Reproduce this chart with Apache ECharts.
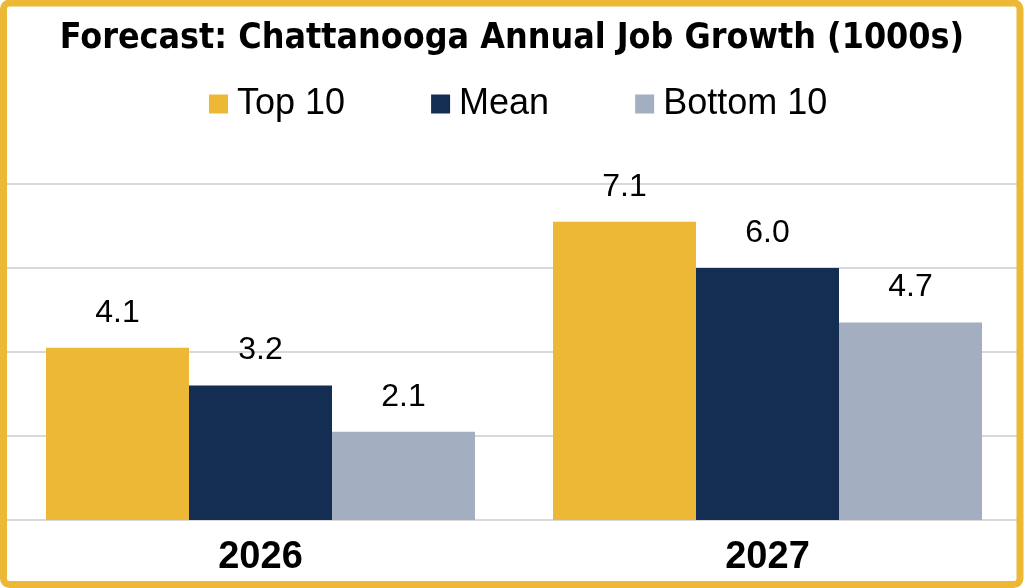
<!DOCTYPE html>
<html>
<head>
<meta charset="utf-8">
<script src="https://cdn.jsdelivr.net/npm/echarts@6/dist/echarts.min.js"></script>
<style>
  html, body { margin: 0; padding: 0; background: #fff; }
  #chart { width: 1024px; height: 588px; }
</style>
</head>
<body>
<div id="chart"></div>
<script>
// data
var years = ["2026", "2027"];
var seriesNames = ["Top 10", "Mean", "Bottom 10"];
var top10 = [4.1, 7.1];
var mean = [3.2, 6.0];
var bottom10 = [2.1, 4.7];
var colors = ["#ECB836", "#132E52", "#A3AFC0"];

var chart = echarts.init(document.getElementById("chart"));

function makeSeries(name, values, color) {
    return {
        name: name,
        type: "bar",
        data: values,
        barWidth: 143,
        barGap: "0%",
        itemStyle: { color: color },
        label: {
            show: true,
            position: "top",
            distance: 19,
            color: "#000",
            fontFamily: "Liberation Sans",
            fontSize: 32,
            formatter: function (p) { return p.value.toFixed(1); }
        }
    };
}

chart.setOption({
    animation: false,
    backgroundColor: "#fff",
    title: {
        text: "Forecast: Chattanooga Annual Job Growth (1000s)",
        left: "center",
        top: 16,
        textStyle: {
            color: "#000",
            fontFamily: "'DejaVu Sans Condensed', Roboto, sans-serif",
            fontWeight: "bold",
            fontSize: 35.5
        }
    },
    legend: {
        data: seriesNames,
        left: 209,
        top: 86,
        padding: 0,
        itemWidth: 19,
        itemHeight: 19,
        itemGap: 86,
        icon: "rect",
        textStyle: {
            color: "#000",
            fontFamily: "Liberation Sans",
            fontSize: 36,
            padding: [0, 0, 0, 4]
        }
    },
    grid: { left: 7, right: 3, top: 184, bottom: 68 },
    xAxis: {
        type: "category",
        data: years,
        axisTick: { show: false },
        axisLine: { lineStyle: { color: "#D9D9D9", width: 2 } },
        axisLabel: {
            margin: 19,
            color: "#000",
            fontFamily: "Liberation Sans",
            fontWeight: "bold",
            fontSize: 38
        }
    },
    yAxis: {
        type: "value",
        min: 0,
        max: 8,
        interval: 2,
        axisLabel: { show: false },
        axisLine: { show: false },
        axisTick: { show: false },
        splitLine: { lineStyle: { color: "#D9D9D9", width: 2 } }
    },
    series: [
        makeSeries(seriesNames[0], top10, colors[0]),
        makeSeries(seriesNames[1], mean, colors[1]),
        makeSeries(seriesNames[2], bottom10, colors[2])
    ],
    graphic: [{
        type: "rect",
        z: 100,
        silent: true,
        shape: { x: 3.5, y: 3, width: 1016.5, height: 581.5, r: 6 },
        style: { fill: null, stroke: "#ECB836", lineWidth: 7 }
    }]
});

window.addEventListener("resize", function () {
    chart.resize();
});
</script>
</body>
</html>
